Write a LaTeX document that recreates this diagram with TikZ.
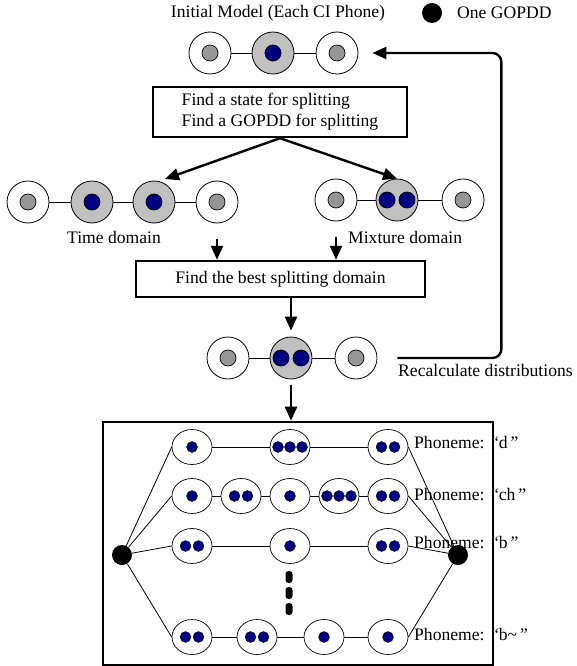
\documentclass[tikz,border=0pt]{standalone}
\usepackage{fontspec}
\setmainfont{Liberation Serif}
\usetikzlibrary{arrows.meta,shapes.geometric,calc}
\definecolor{navyb}{RGB}{0,0,128}
\definecolor{lgray}{RGB}{192,192,192}
\definecolor{mgray}{RGB}{150,150,150}
\begin{document}
\begin{tikzpicture}[x=1pt,y=-1pt,
  every node/.style={font=\fontsize{17.6}{21}\selectfont},
  wstate/.style={circle,draw,line width=0.8pt,fill=white,minimum size=42pt,inner sep=0pt},
  gstate/.style={wstate,fill=lgray},
  gdot/.style={circle,draw,line width=0.7pt,fill=mgray,minimum size=16pt,inner sep=0pt},
  bdot/.style={circle,draw,line width=0.7pt,fill=navyb,minimum size=16pt,inner sep=0pt},
  sdot/.style={circle,fill=navyb,draw=black,line width=0.3pt,minimum size=11pt,inner sep=0pt},
  est/.style={ellipse,draw,line width=0.7pt,minimum width=40pt,minimum height=35pt,inner sep=0pt},
  link/.style={line width=0.8pt},
  arr/.style={line width=2.4pt,-{Triangle[length=14pt,width=12pt]}},
  stepbox/.style={draw,line width=2.4pt,inner sep=0pt}
]
\useasboundingbox (0,0) rectangle (576,666);

% title and legend
\node (title) at (278,13) {Initial Model (Each CI Phone)};
\node[circle,fill=black,minimum size=20pt,inner sep=0pt] (leg) at (432,13) {};
\node[anchor=west,inner sep=0pt] (legt) at (457,13) {One GOPDD};

% top model
\node[wstate] (t1) at (210,53) {};
\node[gstate] (t2) at (273,53) {};
\node[wstate] (t3) at (337,53) {};
\node[gdot] at (t1) {};
\node[bdot] at (t2) {};
\node[gdot] at (t3) {};
\draw[link] (t1) -- (t2) (t2) -- (t3);

% box 1
\node[stepbox,minimum width=254pt,minimum height=50pt,align=left] (box1) at (280,112)
  {Find a state for splitting\\Find a GOPDD for splitting};

% time domain chain
\node[wstate] (l1) at (28,202) {};
\node[gstate] (l2) at (92,202) {};
\node[gstate] (l3) at (154,202) {};
\node[wstate] (l4) at (217,202) {};
\node[gdot] at (l1) {};
\node[bdot] at (l2) {};
\node[bdot] at (l3) {};
\node[gdot] at (l4) {};
\draw[link] (l1) -- (l2) (l2) -- (l3) (l3) -- (l4);
\node (tdl) at (114,237) {Time domain};

% mixture domain chain
\node[wstate] (r1) at (336,200) {};
\node[gstate] (r2) at (397,200) {};
\node[wstate] (r3) at (463,200) {};
\node[gdot] at (r1) {};
\node[bdot] at ($(r2)+(-10,0)$) {};
\node[bdot] at ($(r2)+(10,0)$) {};
\node[gdot] at (r3) {};
\draw[link] (r1) -- (r2) (r2) -- (r3);
\node[anchor=west,inner sep=0pt] (mdl) at (348,237) {Mixture domain};

\coordinate (ta) at (165,179);
\draw[arr] (box1.south) -- (ta);
\draw[arr] (box1.south) -- (r2.north);

% box 2
\node[stepbox,minimum width=289pt,minimum height=36pt] (box2) at (280.5,279)
  {Find the best splitting domain};
\draw[arr] ([yshift=-16pt]l4.south) -- (l4.south |- box2.north);
\draw[arr] ([yshift=-16pt]r1.south) -- (r1.south |- box2.north);

% result chain
\node[wstate] (b1) at (228,358) {};
\node[gstate] (b2) at (291,358) {};
\node[wstate] (b3) at (356,358) {};
\node[gdot] at (b1) {};
\node[bdot] at ($(b2)+(-10,0)$) {};
\node[bdot] at ($(b2)+(10,0)$) {};
\node[gdot] at (b3) {};
\draw[link] (b1) -- (b2) (b2) -- (b3);
\draw[arr] (b2.north |- box2.south) -- ([yshift=6pt]b2.north);

% return arrow
\draw[arr,rounded corners=9pt,shorten <=20pt,shorten >=14pt] (b3.east) -- ++(124,0) |- (t3.east);
\node[anchor=west,inner sep=0pt] (recalc) at (398,370) {Recalculate distributions};

% big box
\node[draw,line width=2.6pt,minimum width=390pt,minimum height=243pt,inner sep=0pt] (bigbox) at (298,543.5) {};
\draw[arr] ([yshift=-6pt]b2.south) -- (b2.south |- bigbox.north);

\node[circle,fill=black,minimum size=20pt,inner sep=0pt] (L) at (122,555) {};
\node[circle,fill=black,minimum size=20pt,inner sep=0pt] (R) at (458,555) {};

% row 1: d
\node[est] (a1) at (192,447) {};
\node[est] (a2) at (290,447) {};
\node[est] (a3) at (388,447) {};
\node[sdot] at (a1) {};
\node[sdot] at ($(a2)+(-12,0)$) {};
\node[sdot] at (a2) {};
\node[sdot] at ($(a2)+(12,0)$) {};
\node[sdot] at ($(a3)+(-6.5,0)$) {};
\node[sdot] at ($(a3)+(6.5,0)$) {};
\draw[link] (a1) -- (a2) (a2) -- (a3);

% row 2: ch
\node[est] (c1) at (192,496) {};
\node[est] (c2) at (241,496) {};
\node[est] (c3) at (290,496) {};
\node[est] (c4) at (339,496) {};
\node[est] (c5) at (388,496) {};
\node[sdot] at (c1) {};
\node[sdot] at ($(c2)+(-6.5,0)$) {};
\node[sdot] at ($(c2)+(6.5,0)$) {};
\node[sdot] at (c3) {};
\node[sdot] at ($(c4)+(-12,0)$) {};
\node[sdot] at (c4) {};
\node[sdot] at ($(c4)+(12,0)$) {};
\node[sdot] at ($(c5)+(-6.5,0)$) {};
\node[sdot] at ($(c5)+(6.5,0)$) {};
\draw[link] (c1) -- (c2) (c2) -- (c3) (c3) -- (c4) (c4) -- (c5);

% row 3: b
\node[est] (d1) at (192,546) {};
\node[est] (d2) at (290,546) {};
\node[est] (d3) at (388,546) {};
\node[sdot] at ($(d1)+(-6.5,0)$) {};
\node[sdot] at ($(d1)+(6.5,0)$) {};
\node[sdot] at (d2) {};
\node[sdot] at ($(d3)+(-6.5,0)$) {};
\node[sdot] at ($(d3)+(6.5,0)$) {};
\draw[link] (d1) -- (d2) (d2) -- (d3);

% row 4: b~
\node[est] (e1) at (192,637) {};
\node[est] (e2) at (257,637) {};
\node[est] (e3) at (324,637) {};
\node[est] (e4) at (388,637) {};
\node[sdot] at ($(e1)+(-6.5,0)$) {};
\node[sdot] at ($(e1)+(6.5,0)$) {};
\node[sdot] at ($(e2)+(-6.5,0)$) {};
\node[sdot] at ($(e2)+(6.5,0)$) {};
\node[sdot] at (e3) {};
\node[sdot] at (e4) {};
\draw[link] (e1) -- (e2) (e2) -- (e3) (e3) -- (e4);

% vertical dots
\foreach \yy in {577,593,609}
  \fill[rounded corners=3pt] (285.5,\yy-6) rectangle (292.5,\yy+6);

% connections to end nodes
\draw[link] (L) -- (a1.west) (L) -- (c1.west) (L) -- (d1.west) (L) -- (e1.west);
\draw[link] (a3.east) -- (R) (c5.east) -- (R) (d3.east) -- (R) (e4.east) -- (R);

% labels
\node[anchor=west,inner sep=0pt] (p1) at (414,443) {Phoneme:\hspace{6.5pt}“d\,”};
\node[anchor=west,inner sep=0pt] (p2) at (414,495) {Phoneme:\hspace{6.5pt}“ch\,”};
\node[anchor=west,inner sep=0pt] (p3) at (414,543) {Phoneme:\hspace{6.5pt}“b\,”};
\node[anchor=west,inner sep=0pt] (p4) at (414,635) {Phoneme:\hspace{6.5pt}“b\char"007E\,”};
\end{tikzpicture}
\end{document}
